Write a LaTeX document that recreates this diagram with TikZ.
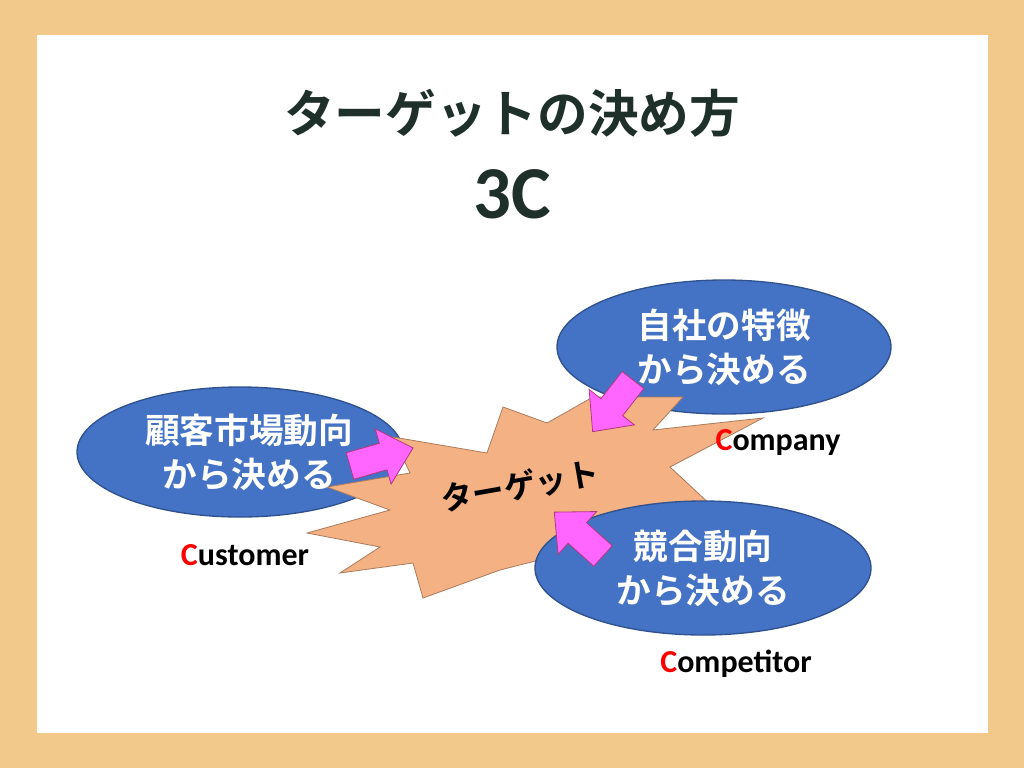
\documentclass[tikz,border=0pt]{standalone}
\usepackage{fontspec}
\setmainfont{Noto Sans CJK JP}
\newfontfamily\cjkb{Noto Sans CJK JP Bold}
\newfontfamily\latb{Carlito}
\begin{document}
\begin{tikzpicture}[x=0.75pt,y=-0.75pt]
\definecolor{bgo}{HTML}{F2C98A}
\definecolor{bl}{HTML}{4472C4}
\definecolor{bld}{HTML}{2F528F}
\definecolor{pk}{HTML}{FF66FF}
\definecolor{burst}{HTML}{F4B183}
\definecolor{tt}{HTML}{1F2F2A}
\tikzset{arr/.style={fill=pk,draw=magenta!70!black,line width=0.6pt},
  lab/.style={font=\latb\bfseries\fontsize{24}{28}\selectfont},
  etxt/.style={text=white,font=\cjkb\fontsize{26}{33}\selectfont,align=center}}
\fill[bgo] (0,0) rectangle (1024,768);
\fill[white] (37,35) rectangle (988,733);
\node[font=\cjkb\fontsize{38}{44}\selectfont,text=tt] (title) at (512,113) {ターゲットの決め方};
\node[font=\latb\bfseries\fontsize{56}{62}\selectfont,text=tt] (tc) at (512,194) {3C};
\fill[bl,draw=bld,line width=1pt] (240,452) ellipse [x radius=163,y radius=65];
\fill[bl,draw=bld,line width=1pt] (724,347) ellipse [x radius=167,y radius=67];
\filldraw[fill=burst,draw=burst!70!black,line width=0.6pt] (307,533)--(390,510)--(327,487)--(410,473)--(393,437)--(487,453)--(503,407)--(547,423)--(593,397)--(683,397)--(653,430)--(763,418)--(670,467)--(713,507)--(630,510)--(633,533)--(567,553)--(500,570)--(423,598)--(413,563)--(340,573)--(380,547)--cycle;
\fill[bl,draw=bld,line width=1pt] (703,568) ellipse [x radius=168,y radius=67];
\node[etxt] (e1) at (249,452) {顧客市場動向\\から決める};
\node[etxt] (e2) at (724,347) {自社の特徴\\から決める};
\node[etxt] (e3) at (703,568) {競合動向\\から決める};
\node[rotate=10,font=\cjkb\fontsize{24}{28}\selectfont] (tg) at (520,486) {ターゲット};
\foreach \x/\y/\a in {350/466/16, 633/380/-128, 603/556/138}{
  \begin{scope}[shift={(\x,\y)},rotate=\a,scale=1.15]
  \filldraw[arr] (0,-12)--(30,-12)--(30,-25)--(57,0)--(30,25)--(30,12)--(0,12)--cycle;
  \end{scope}}
\node[lab] (cu) at (245,555) {\textcolor{red}{C}ustomer};
\node[lab] (co) at (778,443) {\textcolor{red}{C}ompany};
\node[lab] (cp) at (736,664) {\textcolor{red}{C}ompetitor};
\end{tikzpicture}
\end{document}
